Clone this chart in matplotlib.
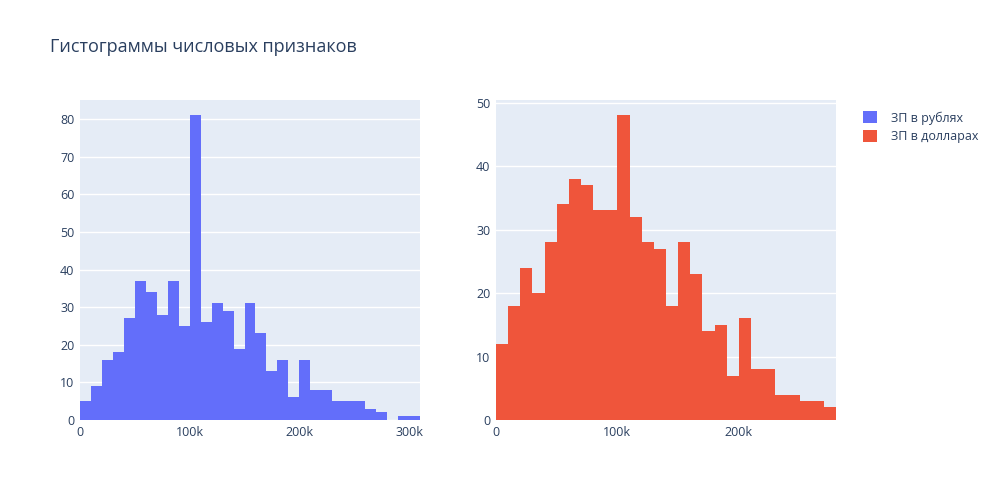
import matplotlib.pyplot as plt
from matplotlib.patches import Patch
import numpy as np

plt.rcParams['font.family'] = ['Open Sans', 'DejaVu Sans']

bin_width = 10000

rub_counts = [5, 9, 16, 18, 27, 37, 34, 28, 37, 25, 81, 26, 31, 29, 19, 31, 23,
              13, 16, 6, 16, 8, 8, 5, 5, 5, 3, 2, 0, 1, 1]
usd_counts = [12, 18, 24, 20, 28, 34, 38, 37, 33, 33, 48, 32, 28, 27, 18, 28, 23,
              14, 15, 7, 16, 8, 8, 4, 4, 3, 3, 2]

series = [
    ('ЗП в рублях', rub_counts, '#636EFA', [0, 100000, 200000, 300000], ['0', '100k', '200k', '300k']),
    ('ЗП в долларах', usd_counts, '#EF553B', [0, 100000, 200000], ['0', '100k', '200k']),
]

text_color = '#2a3f5f'
fig = plt.figure(figsize=(10, 5), dpi=100)
positions = [[0.08, 0.16, 0.34, 0.64], [0.496, 0.16, 0.34, 0.64]]

handles = []
for pos, (name, counts, color, xt, xtl) in zip(positions, series):
    ax = fig.add_axes(pos)
    edges = np.arange(len(counts)) * bin_width
    ax.bar(edges, counts, width=bin_width, align='edge', color=color, linewidth=0, zorder=2)
    ymax = max(counts) * 1.05
    ax.set_xlim(0, len(counts) * bin_width)
    ax.set_ylim(0, ymax)
    ax.set_facecolor('#E5ECF6')
    ax.grid(axis='y', color='white', linewidth=1, zorder=1)
    ax.set_axisbelow(True)
    for s in ax.spines.values():
        s.set_visible(False)
    ax.set_xticks(xt)
    ax.set_xticklabels(xtl)
    ax.set_yticks(np.arange(0, ymax, 10))
    ax.tick_params(length=0, labelsize=9, labelcolor=text_color, pad=4)
    handles.append(Patch(facecolor=color, label=name))

fig.text(0.05, 0.895, 'Гистограммы числовых признаков', fontsize=13, color=text_color)
fig.legend(handles=handles, loc='upper left', bbox_to_anchor=(0.852, 0.80), frameon=False,
           fontsize=9, labelcolor=text_color, handlelength=1.1, handleheight=1.1,
           handletextpad=1.1, labelspacing=0.4)

fig.savefig('out.png', dpi=100)
